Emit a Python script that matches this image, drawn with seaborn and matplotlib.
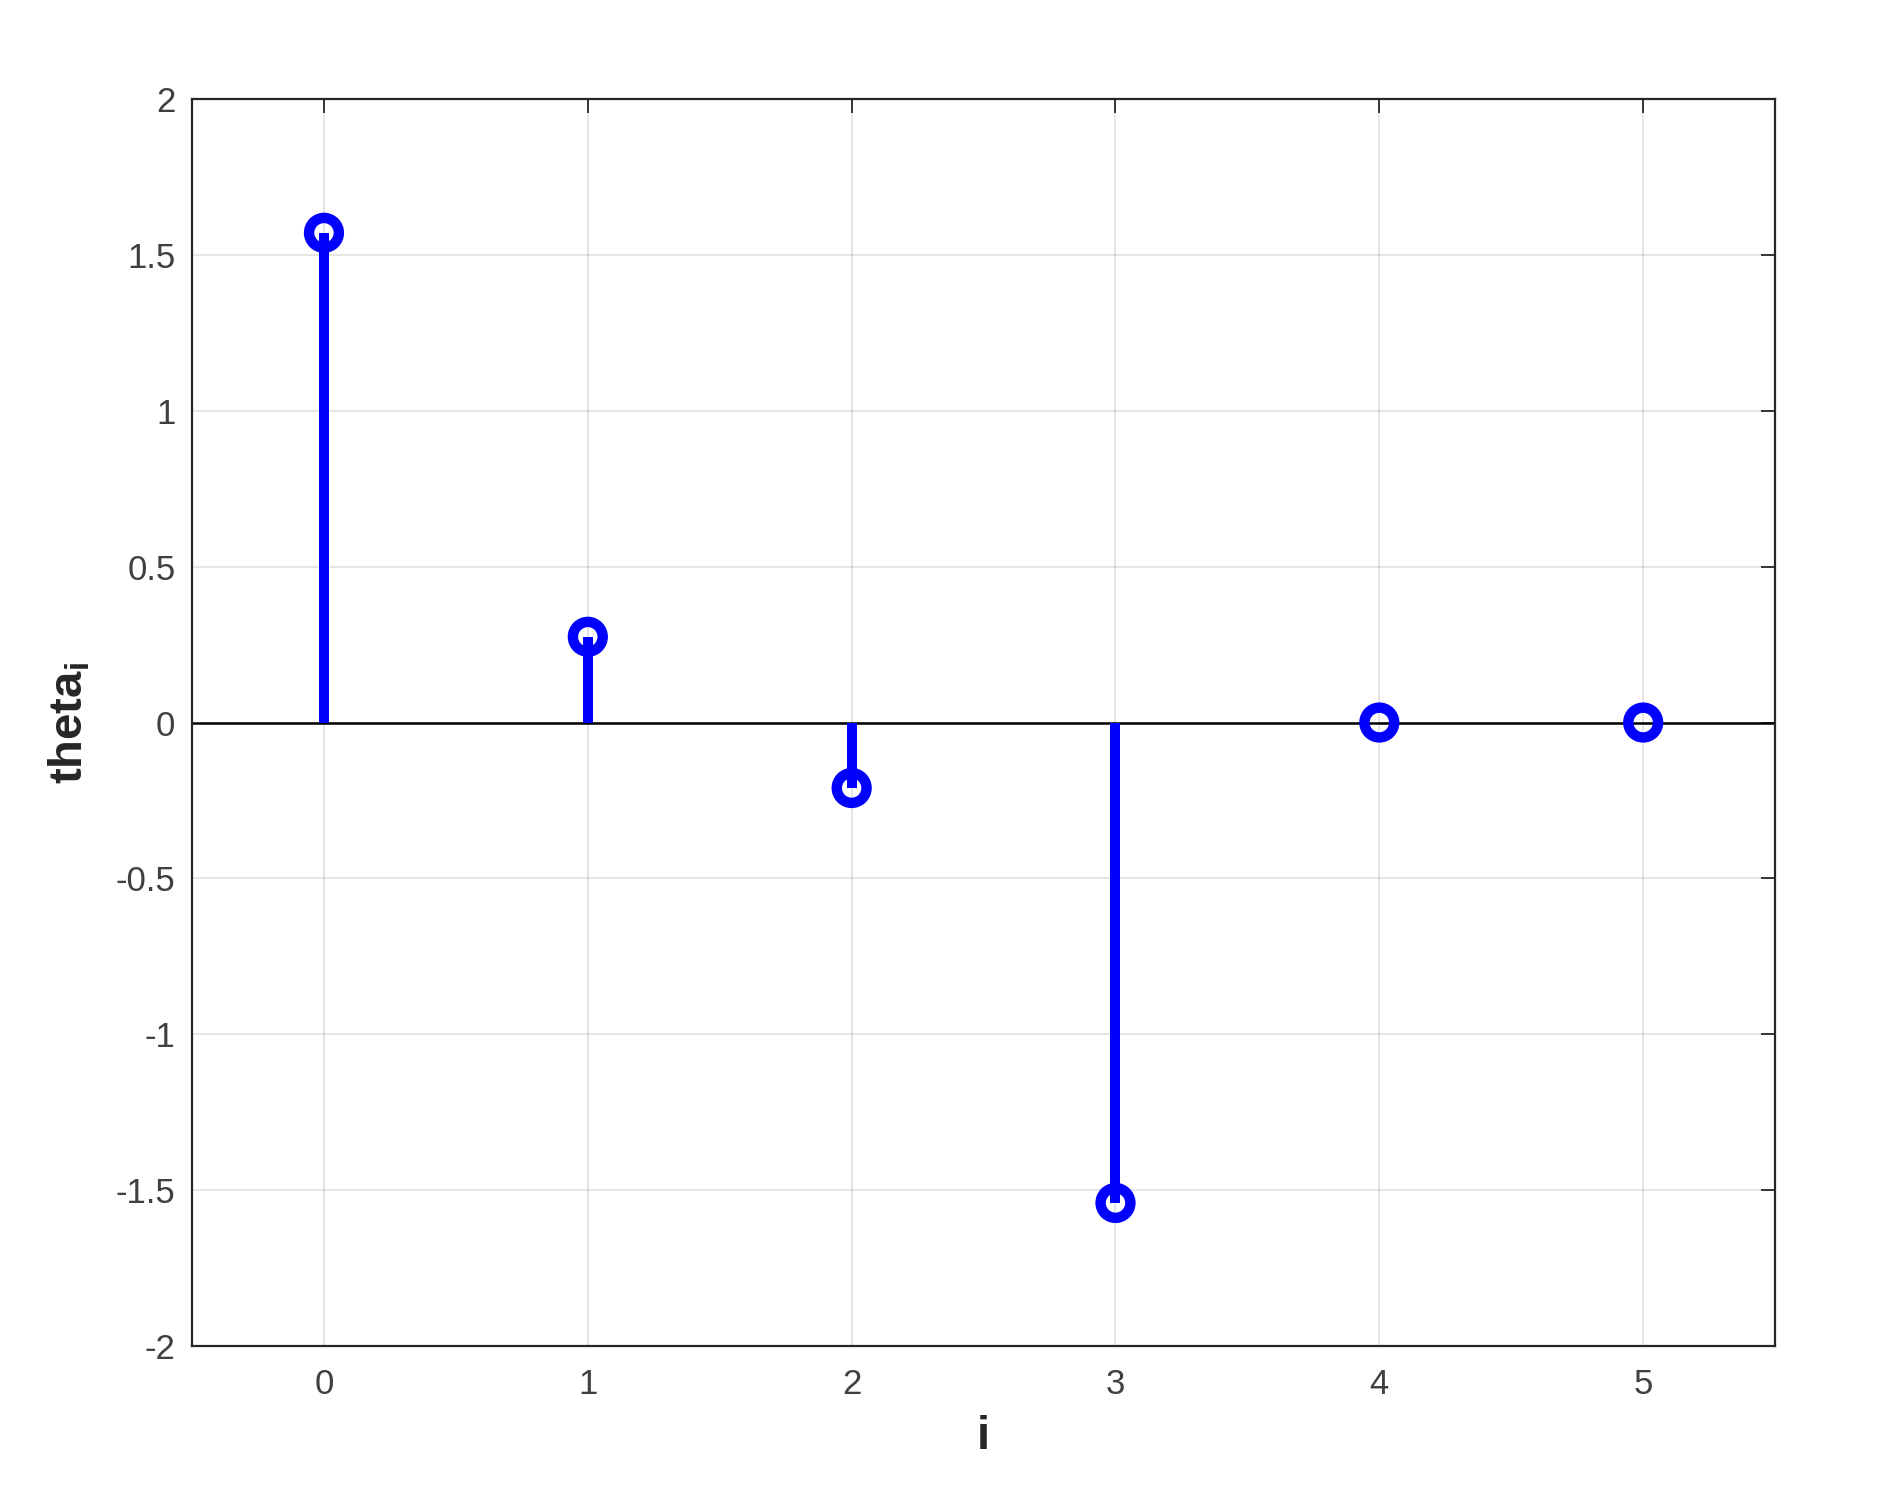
import numpy as np
import pandas as pd
import matplotlib
matplotlib.use("Agg")
import matplotlib.pyplot as plt
import seaborn as sns

# dados
idx = [0, 1, 2, 3, 4, 5]
theta = [1.5708, 0.275, -0.21, -1.541, 0.0, 0.0]
yticks = [-2, -1.5, -1, -0.5, 0, 0.5, 1, 1.5, 2]
ytick_labels = ["-2", "-1.5", "-1", "-0.5", "0", "0.5", "1", "1.5", "2"]

df = pd.DataFrame({"i": idx, "theta": theta})

sns.set_theme(style="white")
plt.rcParams["font.family"] = ["Liberation Sans", "DejaVu Sans"]

fig = plt.figure(figsize=(18.81, 15.07), dpi=100)
ax = fig.add_axes([0.1021, 0.1068, 0.8416, 0.8275])

# grade
ax.grid(True, color="#000000", alpha=0.12, linewidth=1.2)
ax.set_axisbelow(True)

# hastes e linha de base
ax.vlines(df["i"], 0, df["theta"], color="#0000ff", linewidth=7.2, zorder=3)
ax.axhline(0, color="#000000", linewidth=1.8, zorder=2)

# marcadores
sns.scatterplot(data=df, x="i", y="theta", ax=ax, s=460, marker="o",
                facecolors="none", edgecolor="#0000ff", linewidth=7.5, zorder=4)

ax.set_xlim(-0.5, 5.5)
ax.set_ylim(-2, 2)
ax.set_xticks(idx)
ax.set_xticklabels([str(v) for v in idx])
ax.set_yticks(yticks)
ax.set_yticklabels(ytick_labels)

ax.tick_params(direction="in", length=10, width=1.3, colors="#262626",
               labelcolor="#404040", labelsize=25, top=True, right=True)
ax.tick_params(axis="x", pad=16)
ax.tick_params(axis="y", pad=12)
for sp in ax.spines.values():
    sp.set_color("#262626")
    sp.set_linewidth(1.6)

ax.set_xlabel("i", fontsize=34, fontweight="bold", color="#262626", labelpad=10)
ax.set_ylabel(r"theta$_\mathregular{i}$", fontsize=34, fontweight="bold",
              color="#262626", labelpad=17)

plt.savefig("out.png", dpi=100, facecolor="white")
